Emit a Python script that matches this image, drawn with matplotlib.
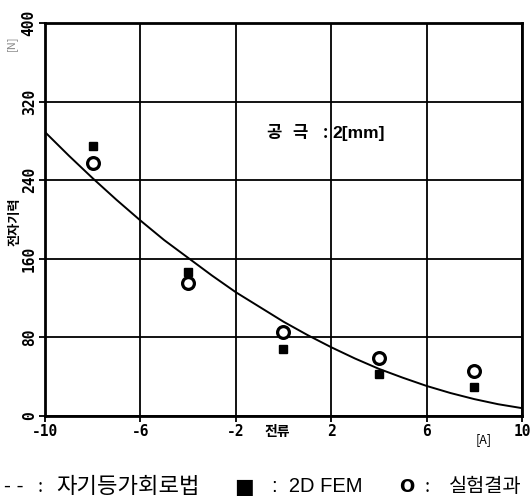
import matplotlib.pyplot as plt

plt.rcParams['font.family'] = ['Noto Sans CJK KR', 'DejaVu Sans']

# 전류 [A]
current = [-8, -4, 0, 4, 8]
fem_force = [275, 147, 68, 43, 30]
test_force = [257, 135, 86, 59, 46]

# 자기등가회로법 계산값
curve_x = [-10, -9, -8, -7, -6, -5, -4, -3, -2, -1, 0,
           1, 2, 3, 4, 5, 6, 7, 8, 9, 10]
curve_y = [289, 265, 242, 220, 199, 179, 161, 143, 126, 111, 96,
           82.5, 70, 58.5, 48, 39, 30.6, 23.4, 17.2, 12, 8]

x_ticks = [-10, -6, -2, 2, 6, 10]
y_ticks = [0, 80, 160, 240, 320, 400]


def main():
    fig = plt.figure(figsize=(5.31, 5.04), dpi=100)
    ax = fig.add_axes([0.0847, 0.1746, 0.8983, 0.7798])

    ax.plot(curve_x, curve_y, color='black', lw=1.4)
    ax.plot(current, fem_force, ls='none', marker='s', ms=6,
            color='black')
    ax.plot(current, test_force, ls='none', marker='o', ms=8.5,
            mfc='white', mec='black', mew=2.3)

    ax.set_xlim(-10, 10)
    ax.set_ylim(0, 400)
    ax.set_xticks(x_ticks)
    ax.set_yticks(y_ticks)
    ax.grid(True, color='black', lw=1.3)
    ax.set_axisbelow(True)
    for s in ax.spines.values():
        s.set_linewidth(2)
    ax.tick_params(direction='out', length=4, width=1.3, pad=2)
    ax.set_xticklabels([str(v) for v in x_ticks], fontsize=10.5,
                       fontweight='bold', family='DejaVu Sans Mono')
    ax.set_yticklabels([str(v) for v in y_ticks], fontsize=10.5,
                       fontweight='bold', family='DejaVu Sans Mono',
                       rotation=90, va='center')

    # 공극 표시
    ax.text(-0.72, 288, '공', fontsize=12, fontweight='bold',
            va='center', ha='left')
    ax.text(0.38, 288, '극', fontsize=12, fontweight='bold',
            va='center', ha='left')
    ax.text(1.65, 288, ':', fontsize=12, fontweight='bold',
            va='center', ha='left')
    ax.text(2.05, 288, '2[mm]', fontsize=12.5, fontweight='bold',
            va='center', ha='left', family='Liberation Sans')

    fig.text(0.522, 0.142, '전류', fontsize=10, fontweight='bold',
             ha='center', va='center')
    fig.text(0.91, 0.128, '[A]', fontsize=9, ha='center', va='center')
    fig.text(0.028, 0.56, '전자기력', fontsize=9.5, fontweight='bold',
             rotation=90, ha='center', va='center')
    fig.text(0.022, 0.915, '[N]', fontsize=8, color='#888888',
             rotation=90, ha='center', va='center')

    # 범례
    fig.text(0.008, 0.034, '- -', fontsize=15, ha='left', va='center',
             family='Liberation Sans')
    fig.text(0.07, 0.034, ':', fontsize=13, ha='left', va='center')
    fig.text(0.105, 0.034, '자기등가회로법', fontsize=16, ha='left',
             va='center')
    fig.text(0.44, 0.034, '■', fontsize=15, ha='left', va='center',
             family='DejaVu Sans')
    fig.text(0.512, 0.034, ':  2D FEM', fontsize=14.5, ha='left',
             va='center', family='Liberation Sans')
    fig.text(0.752, 0.034, 'O', fontsize=13, fontweight='bold',
             ha='left', va='center', family='DejaVu Sans')
    fig.text(0.8, 0.034, ':', fontsize=13, ha='left', va='center')
    fig.text(0.845, 0.034, '실험결과', fontsize=14.2, ha='left',
             va='center')

    fig.savefig('out.png')


if __name__ == "__main__":
    main()
